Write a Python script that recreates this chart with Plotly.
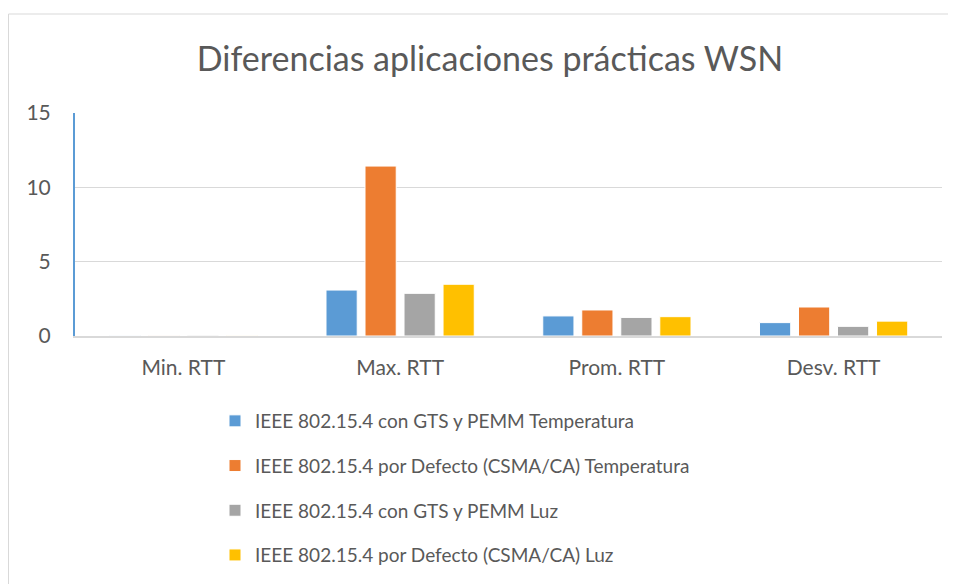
import plotly.graph_objects as go

categories = ["Min. RTT", "Max. RTT", "Prom. RTT", "Desv. RTT"]

series_names = [
    "IEEE 802.15.4 con GTS y PEMM Temperatura",
    "IEEE 802.15.4 por Defecto (CSMA/CA) Temperatura",
    "IEEE 802.15.4 con GTS y PEMM Luz",
    "IEEE 802.15.4 por Defecto (CSMA/CA) Luz",
]

gts_temp = [0.02, 3.09, 1.35, 0.90]
csma_temp = [0.02, 11.43, 1.75, 1.95]
gts_luz = [0.05, 2.87, 1.25, 0.65]
csma_luz = [0.02, 3.48, 1.30, 1.00]

colors = ["#5b9bd5", "#ed7d31", "#a5a5a5", "#ffc000"]
font_family = "Lato"
text_color = "#595959"

# page body has an 8px margin, so the figure is a bit smaller than the window
W, H = 948, 576
left, top, plot_w, plot_h = 67, 105, 867, 223

fig = go.Figure()
for name, vals, color in zip(series_names, [gts_temp, csma_temp, gts_luz, csma_luz], colors):
    fig.add_trace(go.Bar(
        x=categories,
        y=vals,
        name=name,
        legendgroup=name,
        marker=dict(color=color, line=dict(color="white", width=1)),
    ))

fig.update_layout(
    width=W,
    height=H,
    paper_bgcolor="white",
    plot_bgcolor="white",
    barmode="group",
    bargap=0.28,
    bargroupgap=0.2,
    margin=dict(l=left, r=W - left - plot_w, t=top, b=H - top - plot_h, autoexpand=False),
    font=dict(family=font_family, color=text_color),
    title=dict(
        text="Diferencias aplicaciones prácticas WSN",
        x=(490 - 8) / W, xanchor="center",
        y=1 - (59 - 8) / H, yanchor="middle",
        font=dict(size=34, color=text_color, family=font_family),
    ),
    legend=dict(
        orientation="v",
        x=(207 - left) / plot_w, xanchor="left",
        y=-(402 - 8 - top - plot_h) / plot_h, yanchor="top",
        font=dict(size=19, color=text_color),
        tracegroupgap=17,
        bgcolor="rgba(0,0,0,0)",
    ),
    showlegend=True,
)

fig.update_yaxes(
    range=[0, 15],
    tickvals=[0, 5, 10, 15],
    showgrid=True,
    gridcolor="#d9d9d9",
    gridwidth=1,
    showline=True,
    linecolor="#5b9bd5",
    linewidth=2,
    zeroline=False,
    ticks="",
    ticklabelstandoff=18,
    tickfont=dict(size=21, color=text_color),
)
fig.update_xaxes(
    showline=True,
    linecolor="#d9d9d9",
    linewidth=2,
    ticks="",
    ticklabelstandoff=12,
    tickfont=dict(size=21, color=text_color),
)

# chart border (left / top edges; the rest runs off the page)
fig.add_shape(
    type="rect", xref="paper", yref="paper",
    x0=(0.5 - left) / plot_w, x1=(W + 20 - left) / plot_w,
    y0=-(H + 20 - top - plot_h) / plot_h, y1=(top + plot_h - 6) / plot_h,
    line=dict(color="#d9d9d9", width=1),
    fillcolor="rgba(0,0,0,0)",
    layer="below",
)

fig.write_html("out.html")
